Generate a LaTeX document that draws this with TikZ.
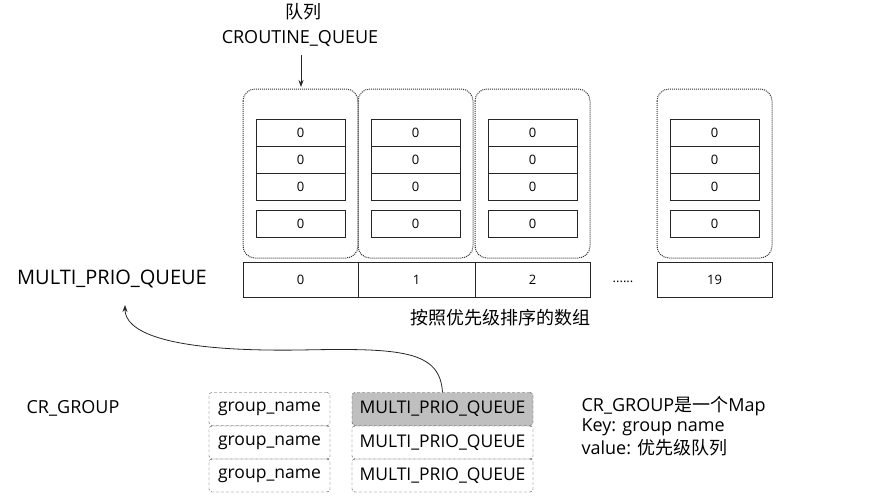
\documentclass[tikz,border=0pt]{standalone}
\usepackage{fontspec}
\setmainfont{Open Sans}
\newfontfamily\cjk{Noto Sans CJK SC}
\usetikzlibrary{arrows.meta}
\begin{document}
\begin{tikzpicture}[x=1pt,y=-1pt,
  grp/.style={draw=black!80,densely dotted,rounded corners=12pt,line width=1pt},
  cell/.style={draw=black!85,line width=0.8pt,minimum width=89pt,minimum height=27pt,inner sep=0pt,font=\fontsize{13}{14}\selectfont},
  arr/.style={draw=black!85,line width=0.8pt,minimum width=115pt,minimum height=35pt,inner sep=0pt,font=\fontsize{13}{14}\selectfont},
  kv/.style={draw=black!75,densely dashed,rounded corners=3pt,minimum height=33pt,inner sep=0pt,font=\fontsize{17.5}{19}\selectfont},
  lbl/.style={font=\fontsize{18}{20}\selectfont},
  tip/.style={-{Stealth[length=7pt,width=5pt]},black!85,line width=0.8pt}]
\useasboundingbox (0,0) rectangle (880,499);
\node[lbl] (t1) at (303,12) {\cjk 队列};
\node[lbl] (t2) at (300,38) {CROUTINE\_QUEUE};
\coordinate (a0) at (301,55);
\coordinate (a1) at (301,87);
\draw[tip] (a0) -- (a1);
\foreach \x/\n in {243/g1,358/g2,475/g3,657/g4}{
  \draw[grp] (\x,89) rectangle +(115,169);
  \foreach \y/\m in {132.5/a,159.5/b,186.5/c,224/d}
    \node[cell] (\n\m) at (\x+57.5,\y) {0};
}
\node[arr] (c0) at (300.5,279.5) {0};
\node[arr,minimum width=117pt] (c1) at (416.5,279.5) {1};
\node[arr] (c2) at (532.5,279.5) {2};
\node[font=\fontsize{13}{14}\selectfont] (dots) at (623,282) {......};
\node[arr] (c19) at (714.5,279.5) {19};
\node[lbl,font=\fontsize{20}{22}\selectfont] (mpq) at (112,279) {MULTI\_PRIO\_QUEUE};
\node[lbl] (sorted) at (500,318) {\cjk 按照优先级排序的数组};
\node[lbl] (crg) at (73,408) {CR\_GROUP};
\foreach \y/\i in {409/1,442.5/2,475.5/3}{
  \node[kv,minimum width=121pt] (k\i) at (269.5,\y) {group\_name};
}
\node[kv,minimum width=181pt,fill=black!25] (v1) at (442.5,409) {MULTI\_PRIO\_QUEUE};
\node[kv,minimum width=181pt] (v2) at (442.5,442.5) {MULTI\_PRIO\_QUEUE};
\node[kv,minimum width=181pt] (v3) at (442.5,475.5) {MULTI\_PRIO\_QUEUE};
\coordinate (e) at (125,305);
\draw[tip] (v1.north) .. controls (440,350) and (400,348) .. (300,350) .. controls (160,352) and (125,330) .. (e);
\node[lbl,anchor=west] (n1) at (578,406) {CR\_GROUP{\cjk 是一个}Map};
\node[lbl,anchor=west] (n2) at (578,427) {Key: group name};
\node[lbl,anchor=west] (n3) at (578,448) {value: {\cjk 优先级队列}};
\end{tikzpicture}
\end{document}
